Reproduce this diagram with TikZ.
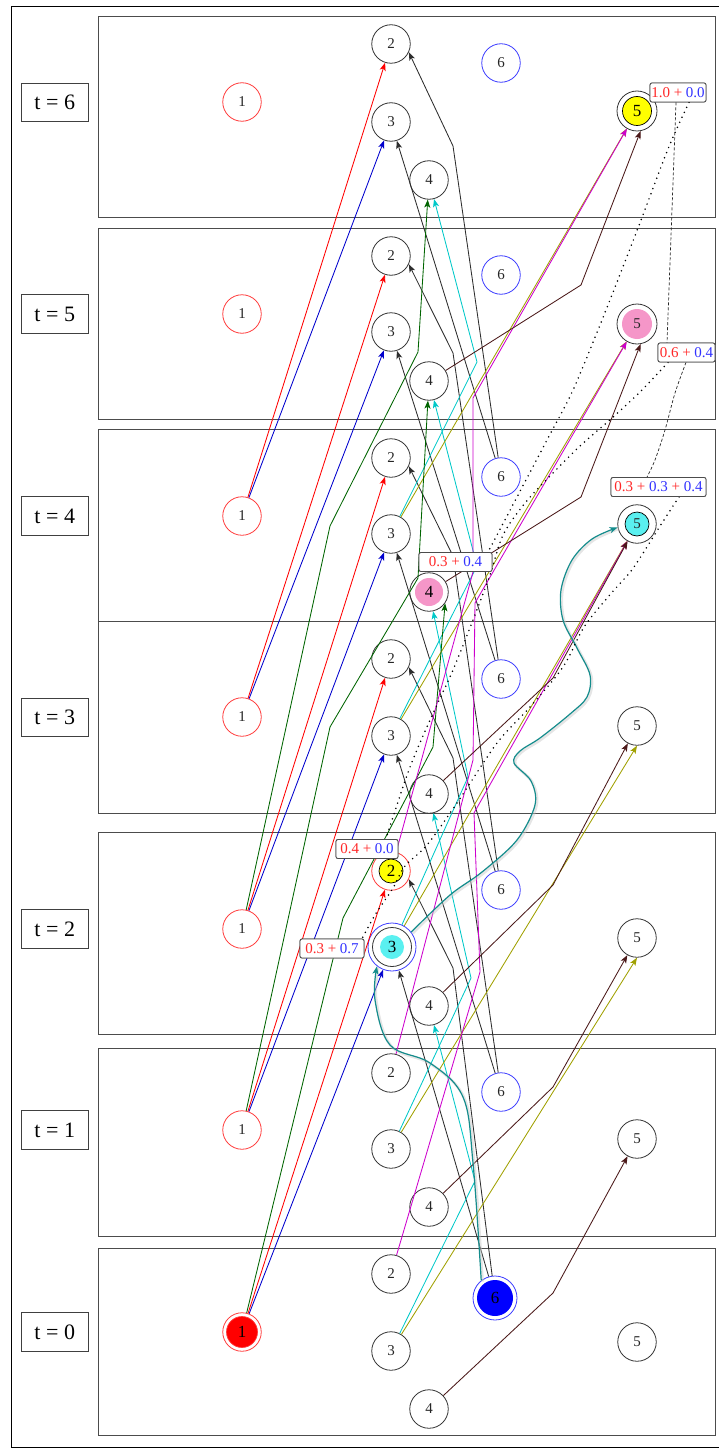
\documentclass[tikz,border=0pt]{standalone}
\usepackage{fontspec}
\setmainfont{Liberation Serif}
\usetikzlibrary{arrows.meta}
\definecolor{cRed}{RGB}{255,0,0}
\definecolor{cBlue}{RGB}{0,0,205}
\definecolor{cGreen}{RGB}{0,100,0}
\definecolor{cBlack}{RGB}{45,45,45}
\definecolor{cCyan}{RGB}{0,200,200}
\definecolor{cOlive}{RGB}{160,160,0}
\definecolor{cMag}{RGB}{205,0,205}
\definecolor{cBrown}{RGB}{75,25,25}
\definecolor{cTeal}{RGB}{20,140,140}
\definecolor{nRed}{RGB}{255,60,60}
\definecolor{nBlue}{RGB}{60,60,255}
\definecolor{fPink}{RGB}{245,150,200}
\definecolor{fCyan}{RGB}{90,240,240}
\definecolor{fYellow}{RGB}{255,255,0}
\definecolor{lRed}{RGB}{255,40,40}
\definecolor{lBlue}{RGB}{50,50,255}
\begin{document}
\begin{tikzpicture}[x=1bp,y=-1bp,
  vtx/.style={circle,draw=black!80,line width=0.8bp,minimum size=38.5bp,inner sep=0pt,font=\fontsize{15bp}{18bp}\selectfont,text=black!85},
  vred/.style={vtx,draw=nRed},
  vblue/.style={vtx,draw=nBlue},
  hl/.style={font=\fontsize{17bp}{20bp}\selectfont,text=black},
  panel/.style={draw=black!70,line width=0.9bp},
  tlab/.style={draw=black!75,line width=0.9bp,minimum width=67.5bp,minimum height=38.5bp,inner sep=0pt,font=\fontsize{22bp}{26bp}\selectfont},
  lab/.style={draw=black!70,fill=white,rounded corners=2bp,line width=0.8bp,inner sep=0pt,minimum height=19bp,font=\fontsize{15bp}{18bp}\selectfont},
  edg/.style={line width=0.85bp,-{Stealth[length=8bp,width=6bp,inset=2bp]}},
  eR/.style={edg,color=cRed},
  eB/.style={edg,color=cBlue},
  eG/.style={edg,color=cGreen},
  eK/.style={edg,color=cBlack},
  eC/.style={edg,color=cCyan},
  eO/.style={edg,color=cOlive},
  eM/.style={edg,color=cMag},
  eN/.style={edg,color=cBrown},
  eT/.style={edg,color=cTeal,line width=1.2bp},
  tshadow/.style={gray!45,line width=2.8bp,opacity=0.45,transform canvas={shift={(1.3bp,-1.3bp)}}},
  dotl/.style={black,line width=1.7bp,dash pattern=on 0bp off 5.5bp,line cap=round},
  dashl/.style={black!85,line width=0.7bp,dash pattern=on 3bp off 2bp}
]
\useasboundingbox (0,0) rectangle (719,1449);
\draw[black,line width=1bp] (11,7) rectangle (725,1447);

% panels
\draw[panel] (98,16) rectangle (715,217);
\draw[panel] (98,228) rectangle (715,419);
\draw[panel] (98,429) rectangle (715,621);
\draw[panel] (98,621) rectangle (715,813);
\draw[panel] (98,832) rectangle (715,1034);
\draw[panel] (98,1048) rectangle (715,1236);
\draw[panel] (98,1248) rectangle (715,1435);

% time labels
\node[tlab] (tl6) at (54.75,102.5) {t = 6};
\node[tlab] (tl5) at (54.75,314) {t = 5};
\node[tlab] (tl4) at (54.75,516) {t = 4};
\node[tlab] (tl3) at (54.75,717.5) {t = 3};
\node[tlab] (tl2) at (54.75,929) {t = 2};
\node[tlab] (tl1) at (54.75,1130) {t = 1};
\node[tlab] (tl0) at (54.75,1332) {t = 0};

% t = 6
\node[vred] (n1t6) at (242,102) {1};
\node[vtx] (n2t6) at (391,44) {2};
\node[vblue] (n6t6) at (501,63) {6};
\node[vtx] (n3t6) at (391,122) {3};
\node[vtx] (n4t6) at (429,180) {4};
\node[vtx,minimum size=40bp,hl,path picture={\filldraw[fill=fYellow,draw=black,line width=0.7bp] (path picture bounding box.center) circle (14.5bp);}] (n5t6) at (637,111) {5};
% t = 5
\node[vred] (n1t5) at (242,314) {1};
\node[vtx] (n2t5) at (391,256) {2};
\node[vblue] (n6t5) at (501,275) {6};
\node[vtx] (n3t5) at (391,332) {3};
\node[vtx] (n4t5) at (429,381) {4};
\node[vtx,minimum size=40bp,path picture={\fill[fPink] (path picture bounding box.center) circle (15bp);}] (n5t5) at (637,324) {5};
% t = 4
\node[vred] (n1t4) at (242,516) {1};
\node[vtx] (n2t4) at (391,458) {2};
\node[vblue] (n6t4) at (501,477) {6};
\node[vtx] (n3t4) at (391,534) {3};
\node[vtx,hl,path picture={\fill[fPink] (path picture bounding box.center) circle (14bp);}] (n4t4) at (429,592) {4};
\node[vtx,path picture={\filldraw[fill=fCyan,draw=black,line width=0.7bp] (path picture bounding box.center) circle (12bp);}] (n5t4) at (637,524) {5};
% t = 3
\node[vred] (n1t3) at (242,717) {1};
\node[vtx] (n2t3) at (391,659) {2};
\node[vblue] (n6t3) at (501,679) {6};
\node[vtx] (n3t3) at (391,736) {3};
\node[vtx] (n4t3) at (429,794) {4};
\node[vtx] (n5t3) at (637,726) {5};
% t = 2
\node[vred] (n1t2) at (242,929) {1};
\node[vred,hl,path picture={\filldraw[fill=fYellow,draw=black,line width=0.7bp] (path picture bounding box.center) circle (12bp);}] (n2t2) at (391,871) {2};
\node[vblue] (n6t2) at (501,890) {6};
\node[vblue,minimum size=48bp,hl,path picture={\draw[black!80,line width=0.8bp] (path picture bounding box.center) circle (19.5bp); \fill[fCyan] (path picture bounding box.center) circle (12bp);}] (n3t2) at (392,947) {3};
\node[vtx] (n4t2) at (429,1006) {4};
\node[vtx] (n5t2) at (637,938) {5};
% t = 1
\node[vred] (n1t1) at (242,1130) {1};
\node[vtx] (n2t1) at (391,1073) {2};
\node[vblue] (n6t1) at (501,1092) {6};
\node[vtx] (n3t1) at (391,1149) {3};
\node[vtx] (n4t1) at (429,1207) {4};
\node[vtx] (n5t1) at (637,1139) {5};
% t = 0
\node[vred,hl,path picture={\filldraw[fill=red,draw=nRed,line width=0.7bp] (path picture bounding box.center) circle (15.5bp);}] (n1t0) at (242,1332) {1};
\node[vtx] (n2t0) at (391,1274) {2};
\node[vblue,minimum size=44bp,hl,path picture={\fill[blue] (path picture bounding box.center) circle (18bp);}] (n6t0) at (495,1298) {6};
\node[vtx] (n3t0) at (391,1351) {3};
\node[vtx] (n4t0) at (429,1409) {4};
\node[vtx] (n5t0) at (637,1342) {5};

% straight edges
\foreach \a/\b in {0/2,1/3,2/4,3/5,4/6}{
  \draw[eR] (n1t\a) -- (n2t\b);
  \draw[eB] (n1t\a) -- (n3t\b);
  \draw[eK] (n6t\a) -- (n3t\b);
}
% black bent edges 6 -> 2
\foreach \a/\b/\y in {0/2/968,1/3/758,2/4/556,3/5/353,4/6/146}{
  \draw[eK] (n6t\a) -- (453,\y) -- (n2t\b.335);
}
% cyan 3 -> 4
\foreach \a/\b/\x/\y in {0/2/475/1181,1/3/471/978,2/4/468/777,3/5/477/566,4/6/477/362}{
  \draw[eC] (n3t\a) -- (\x,\y) -- (n4t\b);
}
% olive 3 -> 5
\draw[eO] (n3t0) -- (n5t2.south);
\draw[eO] (n3t1) -- (n5t3.south);
\draw[eO] (n3t2) -- (n5t4);
\draw[eO] (n3t3) -- (n5t5);
\draw[eO] (n3t4) -- (n5t6);
% green 1 -> 4
\draw[eG] (n1t0) -- (343,918) -- (433,747) -- (n4t4.325);
\draw[eG] (n1t1) -- (330,727) -- (418,578) -- (n4t5);
\draw[eG] (n1t2) -- (330,526) -- (418,352) -- (n4t6);
% magenta 2 -> 5
\draw[eM] (n2t0) -- (480,972) -- (474,813) -- (n5t4);
\draw[eM] (n2t1) -- (473,760) -- (475,603) -- (n5t5);
\draw[eM] (n2t2) -- (473,572) -- (473,398) -- (n5t6);
% brown 4 -> 5
\draw[eN] (n4t0) -- (553,1293) -- (n5t1);
\draw[eN] (n4t1) -- (553,1087) -- (n5t2);
\draw[eN] (n4t2) -- (553,885) -- (n5t3);
\draw[eN] (n4t3) -- (553,678) -- (n5t4);
\draw[eN] (n4t4) -- (581,497) -- (n5t5.280);
\draw[eN] (n4t5) -- (581,285) -- (n5t6.280);

% teal highlighted paths
\draw[tshadow] plot[smooth,tension=0.6] coordinates {(n6t0.128) (473,1163) (463,1097) (430,1063) (390,1045) (375,1000) (n3t2.232)};
\draw[eT] plot[smooth,tension=0.6] coordinates {(n6t0.128) (473,1163) (463,1097) (430,1063) (390,1045) (375,1000) (n3t2.232)};
\draw[tshadow] plot[smooth,tension=0.55] coordinates {(n3t2.38) (450,895) (482,872) (517,840) (535,805) (531,781) (514,763) (520,751) (540,738) (570,714) (587,697) (590,675) (577,648) (563,620) (561,590) (572,560) (592,539) (n5t4.190)};
\draw[eT] plot[smooth,tension=0.55] coordinates {(n3t2.38) (450,895) (482,872) (517,840) (535,805) (531,781) (514,763) (520,751) (540,738) (570,714) (587,697) (590,675) (577,648) (563,620) (561,590) (572,560) (592,539) (n5t4.190)};

% label nodes
\node[lab,minimum width=56bp] (L6) at (678,92.5) {\textcolor{lRed}{1.0 +} \textcolor{lBlue}{0.0}};
\node[lab,minimum width=57bp] (L5) at (686.5,352.5) {\textcolor{lRed}{0.6 +} \textcolor{lBlue}{0.4}};
\node[lab,minimum width=95bp] (L4) at (658.5,487) {\textcolor{lRed}{0.3 +} \textcolor{lBlue}{0.3} \textcolor{lRed}{+} \textcolor{lBlue}{0.4}};
\node[lab,minimum width=73bp] (L44) at (455.5,562) {\textcolor{lRed}{0.3 +} \textcolor{lBlue}{0.4}};
\node[lab,minimum width=62bp] (L22) at (367,849) {\textcolor{lRed}{0.4 +} \textcolor{lBlue}{0.0}};
\node[lab,minimum width=64bp] (L32) at (332,948.5) {\textcolor{lRed}{0.3 +} \textcolor{lBlue}{0.7}};

% dashed and dotted links between labels (drawn behind labels)
\begin{scope}[on background layer/.try]
\end{scope}
\draw[dashl] (L6.south -| 676,0) -- (L5.north -| 667,0);
\draw[dashl] plot[smooth] coordinates {(L5.south -| 686,0) (675,393) (665,430) (655,460) (L4.north -| 647,0)};
\draw[dotl] plot[smooth] coordinates {(L6.south -| 689,0) (668,149) (638,228) (604,315) (573,390) (547,440) (517,497) (L44.north -| 488,0)};
\draw[dotl] plot[smooth] coordinates {(L5.south -| 668,0) (640,392) (612,418) (580,446) (552,474) (525,503) (503,535) (490,575) (473,620) (453,670) (430,720) (410,767) (392,820) (L22.north -| 386,0)};
\draw[dotl] plot[smooth] coordinates {(L4.south -| 679,0) (662,523) (645,550) (631,571) (608,597) (584,627) (563,667) (530,707) (497,743) (457,803) (427,845) (405,866) (393,888) (375,915) (L32.north -| 362,0)};

% redraw labels on top
\node[lab,minimum width=56bp] at (L6) {\textcolor{lRed}{1.0 +} \textcolor{lBlue}{0.0}};
\node[lab,minimum width=57bp] at (L5) {\textcolor{lRed}{0.6 +} \textcolor{lBlue}{0.4}};
\node[lab,minimum width=95bp] at (L4) {\textcolor{lRed}{0.3 +} \textcolor{lBlue}{0.3} \textcolor{lRed}{+} \textcolor{lBlue}{0.4}};
\node[lab,minimum width=73bp] at (L44) {\textcolor{lRed}{0.3 +} \textcolor{lBlue}{0.4}};
\node[lab,minimum width=62bp] at (L22) {\textcolor{lRed}{0.4 +} \textcolor{lBlue}{0.0}};
\node[lab,minimum width=64bp] at (L32) {\textcolor{lRed}{0.3 +} \textcolor{lBlue}{0.7}};
\end{tikzpicture}
\end{document}
